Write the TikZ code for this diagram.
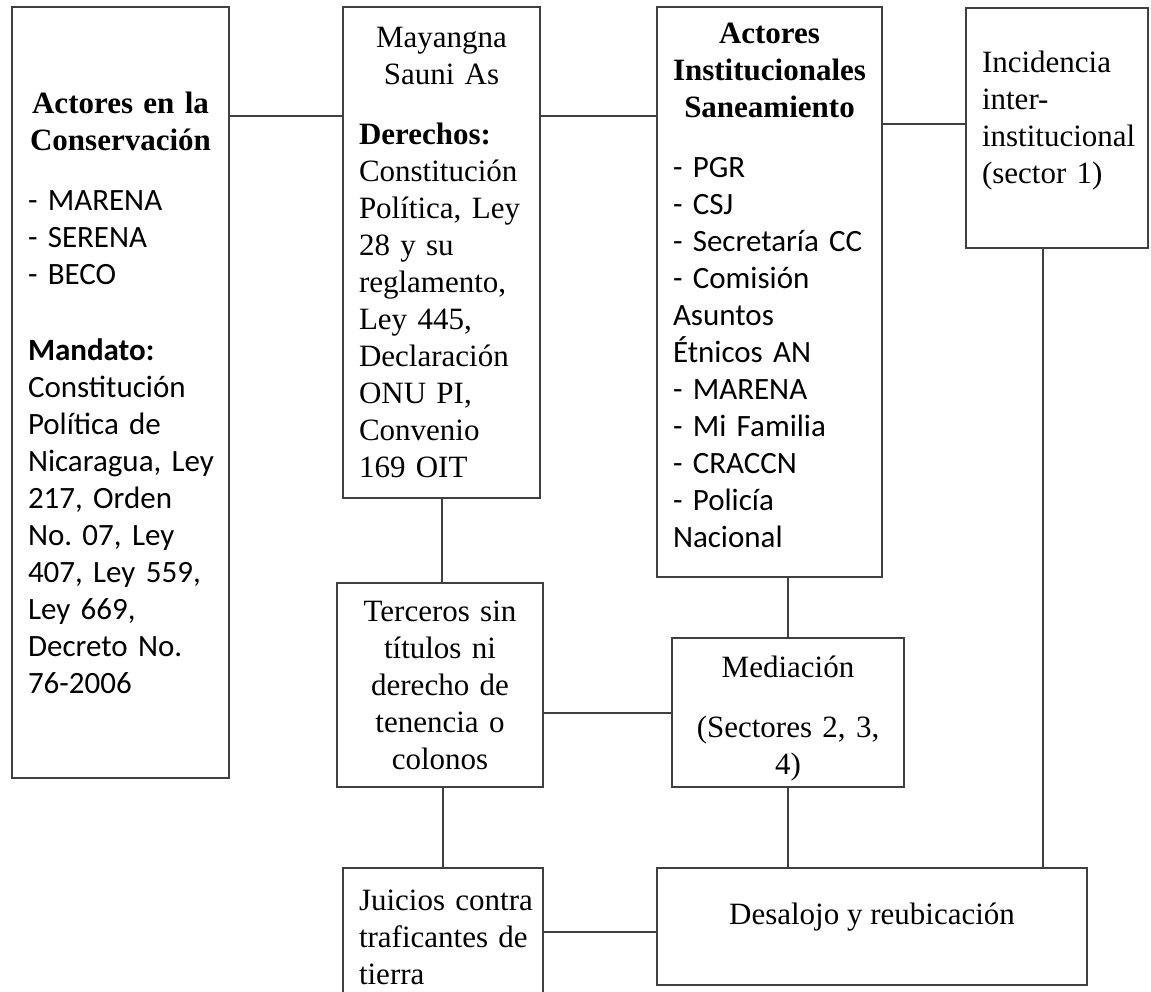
\documentclass[tikz,border=0pt]{standalone}
\usepackage{fontspec}
\setmainfont{Liberation Serif}
\setsansfont{Carlito}
\frenchspacing

\begin{document}
\begin{tikzpicture}[x=1pt,y=-1pt]
\tikzstyle{box} = [rectangle, draw=black!75, line width=2pt, inner xsep=16pt, inner ysep=0pt, font=\fontsize{31}{37}\selectfont]
\tikzstyle{edge} = [draw=black!75, line width=2pt]

\clip (0,0) rectangle (1151,991);

\node[box, minimum width=217pt, minimum height=771pt, text width=185pt] (cons) at (120.5,392.5)
  {{\centering\bfseries Actores en la\\Conservación\par}\vspace{23pt}
   \raggedright\sffamily - MARENA\\- SERENA\\- BECO\par\vspace{39pt}
   \textbf{Mandato:}\\Constitución\\Política de\\Nicaragua,~Ley\\217, Orden\\No. 07, Ley\\407, Ley 559,\\Ley 669,\\Decreto No.\\76-2006};
\node[box, minimum width=197pt, minimum height=491pt, text width=165pt] (may) at (441.5,252.5)
  {{\centering Mayangna\\Sauni As\par}\vspace{23pt}
   \raggedright\textbf{Derechos:}\\Constitución\\Política, Ley\\28 y su\\reglamento,\\Ley 445,\\Declaración\\ONU PI,\\Convenio\\169 OIT};
\node[box, minimum width=225pt, minimum height=570pt, text width=193pt, text height=22pt, text depth=520pt] (inst) at (769.5,292)
  {{\centering\bfseries Actores\\\mbox{Institucionales}\\Saneamiento\par}\vspace{23pt}
   \raggedright\sffamily - PGR\\- CSJ\\- Secretaría CC\\- Comisión\\Asuntos\\Étnicos AN\\- MARENA\\- Mi Familia\\- CRACCN\\- Policía\\Nacional};
\node[box, minimum width=182pt, minimum height=240pt, text width=150pt, text height=22pt, text depth=134pt] (inc) at (1057,128)
  {\raggedright Incidencia\\inter-\\\mbox{institucional}\\(sector~1)};
\node[box, minimum width=206pt, minimum height=204pt, text width=174pt, align=center] (ter) at (440,685)
  {Terceros sin\\títulos ni\\derecho de\\tenencia o\\colonos};
\node[box, minimum width=232pt, minimum height=149pt, text width=200pt, align=center, text height=22pt, text depth=93pt] (med) at (788,712.5)
  {Mediación\\[23pt](Sectores 2, 3,\\4)};
\node[box, minimum width=200pt, minimum height=128pt, text width=168pt, text height=22pt, text depth=66pt] (jui) at (443,932)
  {\raggedright\mbox{Juicios contra}\\traficantes~de\\tierra};
\node[box, minimum width=430pt, minimum height=117pt, text height=22pt, text depth=27pt] (des) at (872,926.5)
  {Desalojo y reubicación};

\draw[edge] ([yshift=-110pt]cons.north east) -- ([yshift=-110pt]cons.north east -| may.west);
\draw[edge] ([yshift=-110pt]may.north east) -- ([yshift=-110pt]may.north east -| inst.west);
\draw[edge] ([yshift=-118pt]inst.north east) -- ([yshift=-118pt]inst.north east -| inc.west);
\draw[edge] (may.south) -- (may.south |- ter.north);
\draw[edge] (jui.north |- ter.south) -- (jui.north);
\draw[edge] (ter.east |- med.west) -- (med.west);
\draw[edge] (med.north |- inst.south) -- (med.north);
\draw[edge] (med.south) -- (med.south |- des.north);
\draw[edge] ([xshift=-14pt]inc.south) -- ([xshift=-14pt]inc.south |- des.north);
\draw[edge] (jui.east) -- (jui.east -| des.west);
\end{tikzpicture}
\end{document}
